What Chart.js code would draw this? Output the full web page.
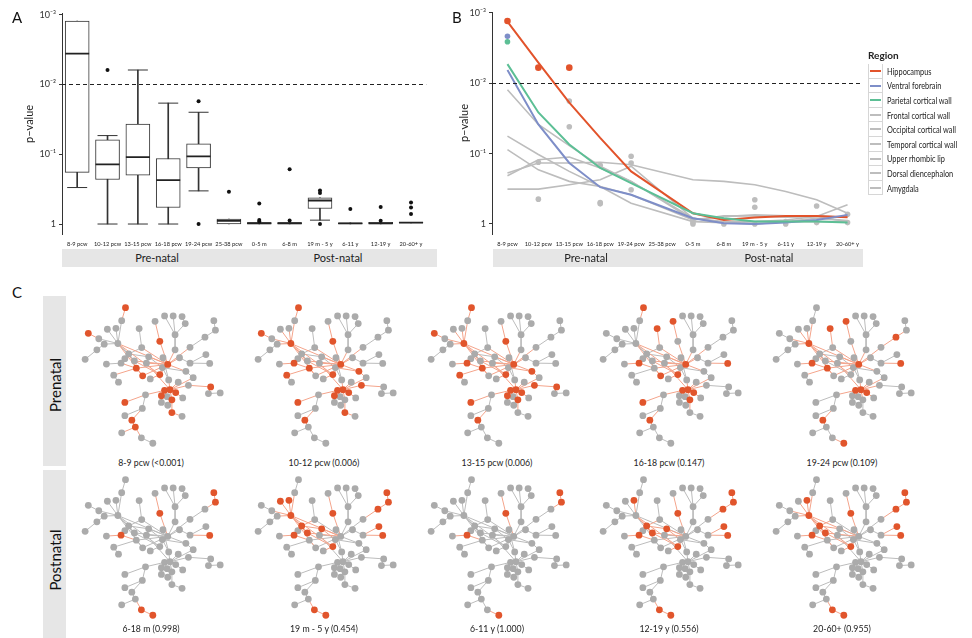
<!DOCTYPE html>
<html>
<head>
<meta charset="utf-8">
<script src="https://cdn.jsdelivr.net/npm/chart.js@4.4.0/dist/chart.umd.min.js"></script>
<style>
  body { margin: 0; background: #fff; font-family: Lato, "Open Sans", sans-serif; color: #222; }
  #page { position: relative; width: 972px; height: 638px; overflow: hidden; }
  .abs { position: absolute; }
  .letter { font-size: 15px; color: #111; }
  .strip { background: #e6e6e6; }
  .stripText { font-size: 11px; color: #222; white-space: nowrap; transform: translateX(-50%); }
  .netLabel { font-size: 9.5px; color: #222; white-space: nowrap; transform: translateX(-50%) scaleX(0.92); }
  .sideBar { background: #e6e6e6; width: 23px; }
  .sideText { font-size: 15px; color: #111; white-space: nowrap; transform: translate(-50%, -50%) rotate(-90deg); }
  #legend { font-size: 8.8px; }
  #legend .title { font-weight: bold; font-size: 10px; margin-bottom: 3px; }
  #legend .row { display: flex; align-items: center; height: 14.6px; }
  #legend .key { width: 13px; height: 13.6px; border: 1px solid #d6d6d6; border-top: none; position: relative; background: #fff; flex: none; }
  #legend .row:first-of-type .key { border-top: 1px solid #d6d6d6; }
  #legend .key span { position: absolute; left: 1px; right: 1px; top: 6px; height: 2px; }
  #legend .lab { margin-left: 4px; white-space: nowrap; transform: scaleX(0.84); transform-origin: left center; }
</style>
</head>
<body>
<div id="page">
  <canvas id="chartA" class="abs" width="440" height="250" style="left:0;top:0"></canvas>
  <canvas id="chartB" class="abs" width="430" height="250" style="left:440px;top:0"></canvas>
  <div class="abs letter" style="left:12px;top:8px">A</div>
  <div class="abs letter" style="left:452px;top:8px">B</div>
  <div class="abs letter" style="left:12px;top:283px">C</div>

  <div class="abs strip" style="left:62px;top:249px;width:375px;height:18px"></div>
  <div class="abs stripText" style="left:157px;top:251px">Pre-natal</div>
  <div class="abs stripText" style="left:338px;top:251px">Post-natal</div>
  <div class="abs strip" style="left:493px;top:249px;width:370px;height:18px"></div>
  <div class="abs stripText" style="left:586px;top:251px">Pre-natal</div>
  <div class="abs stripText" style="left:769px;top:251px">Post-natal</div>

  <div id="legend" class="abs" style="left:868px;top:49px"></div>

  <div class="abs sideBar" style="left:43px;top:296px;height:170px"></div>
  <div class="abs sideText" style="left:55px;top:385px">Prenatal</div>
  <div class="abs sideBar" style="left:43px;top:470px;height:168px"></div>
  <div class="abs sideText" style="left:55px;top:560px">Postnatal</div>
</div>

<script>
// ---- shared ----
const stages = ['8-9 pcw', '10-12 pcw', '13-15 pcw', '16-18 pcw', '19-24 pcw', '25-38 pcw',
                '0-5 m', '6-8 m', '19 m - 5 y', '6-11 y', '12-19 y', '20-60+ y'];
const threshold = 0.01;
const yTicks = [0.001, 0.01, 0.1, 1];
const yTickLabels = ['10\u207B\u00B3', '10\u207B\u00B2', '10\u207B\u00B9', '1'];

// ---- A: p-values per stage (small p is up) ----
const boxTop        = [0.00123, 0.062, 0.037, 0.115, 0.071, 0.85, 0.955, 0.955, 0.42, 0.96, 0.945, 0.95];
const boxMedian     = [0.0036, 0.14, 0.11, 0.235, 0.107, 0.9, 0.975, 0.975, 0.46, 0.98, 0.975, 0.957];
const boxBottom     = [0.182, 0.23, 0.2, 0.58, 0.157, 1, 1, 1, 0.6, 1, 1, 0.965];
const whiskerTop    = [0.00123, 0.054, 0.0062, 0.0185, 0.025, 0.85, 0.955, 0.955, 0.42, 0.96, 0.945, 0.95];
const whiskerBottom = [0.3, 1, 1, 1, 0.335, 1, 1, 1, 0.88, 1, 1, 0.965];
const outlierStage  = ['10-12 pcw', '19-24 pcw', '19-24 pcw', '25-38 pcw', '0-5 m', '0-5 m', '0-5 m',
                       '6-8 m', '6-8 m', '19 m - 5 y', '19 m - 5 y', '19 m - 5 y', '6-11 y',
                       '12-19 y', '12-19 y', '20-60+ y', '20-60+ y', '20-60+ y'];
const outlierP      = [0.0062, 0.0174, 1, 0.345, 0.507, 0.877, 0.92, 0.164, 0.89, 0.33, 0.36, 1,
                       0.61, 0.57, 0.9, 0.49, 0.58, 0.72];

// ---- B: smoothed p-value per region ----
const regions = ['Hippocampus', 'Ventral forebrain', 'Parietal cortical wall', 'Frontal cortical wall',
                 'Occipital cortical wall', 'Temporal cortical wall', 'Upper rhombic lip',
                 'Dorsal diencephalon', 'Amygdala'];
const hippocampusP  = [0.00133, 0.0051, 0.0189, 0.0597, 0.179, null, 0.705, 0.877, 0.812, 0.769, 0.769, 0.803];
const ventralP      = [0.0065, 0.0385, 0.136, 0.3, 0.385, null, 0.83, 0.98, 1, 0.957, 0.877, 0.743];
const parietalP     = [0.00535, 0.026, 0.0743, 0.16, 0.262, null, 0.705, 0.83, 0.926, 0.926, 0.926, 0.957];
const frontalP      = [0.0124, 0.0385, 0.077, 0.151, 0.248, null, 0.83, 0.926, 0.926, 0.877, 0.786, 0.535];
const occipitalP    = [0.0565, 0.103, 0.179, 0.293, 0.507, null, 0.926, 0.957, 0.926, 0.926, 0.926, 0.926];
const temporalP     = [0.088, 0.17, 0.248, 0.293, 0.385, null, 0.877, 0.786, 0.743, 0.769, 0.769, 0.803];
const rhombicP      = [0.189, 0.136, 0.136, 0.133, 0.144, null, 0.235, 0.248, 0.277, 0.345, 0.454, 0.705];
const diencephalonP = [0.206, 0.122, 0.112, 0.16, 0.248, null, 0.877, 0.769, 0.769, 0.803, 0.786, 0.926];
const amygdalaP     = [0.32, 0.32, 0.277, 0.235, 0.151, null, 0.83, 0.957, 1, 0.926, 0.83, 0.896];
const regionCurves = [hippocampusP, ventralP, parietalP, frontalP, occipitalP, temporalP, rhombicP, diencephalonP, amygdalaP];
const regionColors = ['#e2532b', '#7e8ec8', '#5cbf95', '#bdbdbd', '#bdbdbd', '#bdbdbd', '#bdbdbd', '#bdbdbd', '#bdbdbd'];

const dotStage  = ['8-9 pcw', '10-12 pcw', '13-15 pcw', '8-9 pcw', '8-9 pcw',
                   '10-12 pcw', '10-12 pcw', '13-15 pcw', '13-15 pcw', '16-18 pcw', '16-18 pcw', '16-18 pcw',
                   '19-24 pcw', '19-24 pcw', '19-24 pcw', '0-5 m', '0-5 m', '0-5 m', '6-8 m',
                   '19 m - 5 y', '19 m - 5 y', '19 m - 5 y', '6-11 y', '6-11 y', '12-19 y', '12-19 y',
                   '20-60+ y', '20-60+ y'];
const dotP      = [0.0013, 0.006, 0.006, 0.00215, 0.00257,
                   0.133, 0.444, 0.0179, 0.0416, 0.147, 0.496, 0.518,
                   0.109, 0.136, 0.327, 0.877, 0.957, 1, 1,
                   0.454, 0.578, 1, 0.926, 1, 0.556, 0.957,
                   0.727, 0.957];
const dotRegion = [0, 0, 0, 1, 2, 3, 3, 3, 3, 3, 3, 3, 3, 3, 3, 3, 3, 3, 3, 3, 3, 3, 3, 3, 3, 3, 3, 3];

// ---- C: module network, one layout, highlighted genes per stage ----
const nodeX = [162, 150, 138, 105, 132, 45, 78, 95, 72, 35, 205, 213, 255, 285, 312, 340, 350, 318,
               270, 440, 445, 412, 365, 318, 172, 160, 148, 102, 190, 235, 228, 280, 295, 332, 365,
               415, 427, 196, 125, 140, 216, 240, 270, 278, 352, 375, 328, 298, 360, 430, 423, 460,
               285, 302, 320, 275, 308, 293, 342, 275, 295, 308, 340, 225, 160, 215, 160, 182, 193,
               150, 212, 248];
const nodeY = [37, 78, 150, 105, 102, 118, 135, 152, 170, 200, 103, 163, 80, 63, 63, 65, 87, 122,
               143, 78, 108, 130, 162, 170, 183, 198, 212, 215, 205, 192, 212, 195, 216, 195, 212,
               185, 213, 228, 250, 272, 252, 262, 248, 226, 238, 258, 272, 265, 282, 287, 308, 306,
               298, 296, 305, 315, 328, 318, 322, 336, 345, 368, 380, 312, 336, 355, 378, 392, 414,
               432, 448, 465];
const edges = [[0, 1], [1, 2], [3, 2], [4, 2], [5, 6], [6, 2], [7, 2], [8, 7], [9, 8], [2, 24], [2, 32],
               [2, 28], [10, 11], [11, 32], [12, 18], [18, 32], [13, 17], [14, 17], [15, 16], [16, 17],
               [17, 23], [23, 32], [19, 20], [20, 21], [21, 22], [22, 32], [24, 25], [25, 26], [26, 27],
               [24, 28], [28, 32], [29, 32], [30, 32], [29, 24], [31, 32], [33, 32], [34, 33], [35, 34],
               [36, 34], [37, 32], [37, 26], [38, 37], [39, 38], [40, 32], [40, 37], [41, 42], [42, 32],
               [43, 32], [43, 42], [44, 43], [45, 44], [46, 53], [47, 43], [48, 53], [49, 48], [50, 49],
               [51, 50], [52, 53], [53, 47], [54, 53], [55, 52], [56, 53], [57, 52], [58, 54], [59, 55],
               [60, 56], [61, 56], [62, 61], [63, 52], [64, 63], [65, 63], [66, 65], [67, 65], [68, 67],
               [69, 68], [70, 68], [71, 70], [2, 40], [2, 42], [24, 37], [28, 42], [29, 43], [30, 53],
               [45, 53], [44, 32], [31, 47], [11, 24]];
const panelLabels = ['8-9 pcw (<0.001)', '10-12 pcw (0.006)', '13-15 pcw (0.006)', '16-18 pcw (0.147)',
                     '19-24 pcw (0.109)', '6-18 m (0.998)', '19 m - 5 y (0.454)', '6-11 y (1.000)',
                     '12-19 y (0.556)', '20-60+ (0.955)'];
const panelHighlights = [
  [0, 5, 18, 32, 37, 40, 42, 49, 52, 53, 54, 55, 56, 61, 64, 67, 68],
  [0, 5, 2, 18, 32, 26, 37, 38, 42, 44, 48, 52, 53, 54, 55, 61, 64, 67],
  [0, 5, 2, 18, 32, 26, 37, 38, 42, 44, 48, 49, 52, 53, 54, 55, 56, 64, 67],
  [0, 10, 12, 26, 32, 36, 40, 42, 52, 53, 54, 56, 64, 67],
  [2, 10, 12, 21, 26, 32, 36, 37, 52, 53, 54, 67, 71],
  [18, 19, 20, 26, 36, 70, 71],
  [2, 3, 4, 18, 19, 20, 21, 24, 26, 28, 29, 35, 36, 42, 70, 71],
  [18, 19, 20, 26, 71],
  [4, 18, 19, 20, 21, 24, 26, 28, 29, 35, 36, 42, 70, 71],
  [2, 4, 18, 19, 20, 21, 24, 26, 28, 35, 36, 42, 70, 71]
];

Chart.defaults.font.family = 'Lato';
Chart.defaults.color = '#222';

// dashed significance line across the plot area
const thresholdLine = {
  id: 'thresholdLine',
  afterDatasetsDraw(chart) {
    const {ctx, chartArea} = chart;
    const y = Math.round(chart.scales.y.getPixelForValue(threshold)) + 0.5;
    ctx.save();
    ctx.strokeStyle = '#222';
    ctx.lineWidth = 1;
    ctx.setLineDash([4, 3]);
    ctx.beginPath();
    ctx.moveTo(chartArea.left, y);
    ctx.lineTo(chartArea.right, y);
    ctx.stroke();
    ctx.restore();
  }
};

function pScale(titlePad, width) {
  return {
    type: 'logarithmic',
    reverse: true,
    min: 0.00097,
    max: 1.39,
    afterBuildTicks: s => { s.ticks = yTicks.map(v => ({value: v})); },
    afterFit: s => { s.width = width; },
    ticks: {callback: (v, i) => yTickLabels[i], font: {size: 9}, color: '#333', padding: 3},
    grid: {display: true, drawOnChartArea: false, tickLength: 3, color: '#333'},
    border: {display: true, color: '#333', width: 1},
    title: {display: true, text: 'p\u2013value', font: {size: 11}, color: '#222', padding: {top: titlePad, bottom: 0}}
  };
}

const stageAxis = {
  offset: true,
  grid: {display: false, drawTicks: false},
  border: {display: false},
  ticks: {autoSkip: false, maxRotation: 0, minRotation: 0, font: {size: 5.7}, color: '#222', padding: 7},
  afterFit: s => { s.height = 16; }
};

const baseOptions = {
  responsive: false,
  animation: false,
  events: [],
  plugins: {legend: {display: false}, tooltip: {enabled: false}}
};

// ---- A ----
const capTop = whiskerTop.map((v, i) => v < boxTop[i] ? v : null);
const capBottom = whiskerBottom.map((v, i) => v > boxBottom[i] ? v : null);

new Chart(document.getElementById('chartA'), {
  type: 'bar',
  data: {
    labels: stages,
    datasets: [
      {data: stages.map((s, i) => [whiskerTop[i], whiskerBottom[i]]), barThickness: 1,
       backgroundColor: '#333', borderWidth: 0, grouped: false, order: 6},
      {data: stages.map((s, i) => [boxTop[i], boxBottom[i]]), barThickness: 24,
       backgroundColor: '#fff', borderColor: '#333', borderWidth: 1, borderSkipped: false, grouped: false, order: 5},
      {type: 'line', data: boxMedian, showLine: false, pointStyle: 'line', pointRadius: 12,
       pointBorderColor: '#222', pointBorderWidth: 1.8, order: 3},
      {type: 'line', data: capTop, showLine: false, pointStyle: 'line', pointRadius: 10,
       pointBorderColor: '#333', pointBorderWidth: 1, order: 4},
      {type: 'line', data: capBottom, showLine: false, pointStyle: 'line', pointRadius: 10,
       pointBorderColor: '#333', pointBorderWidth: 1, order: 4},
      {type: 'line', data: outlierStage.map((s, i) => ({x: s, y: outlierP[i]})), showLine: false,
       pointRadius: 2, pointBackgroundColor: '#111', pointBorderWidth: 0, order: 1}
    ]
  },
  options: Object.assign({}, baseOptions, {
    layout: {padding: {left: 0, right: 3, top: 12, bottom: 0}},
    scales: {x: stageAxis, y: pScale(23, 62)}
  }),
  plugins: [thresholdLine]
});

// ---- B ----
const curveSets = regionCurves.map((vals, i) => ({
  data: vals, borderColor: regionColors[i], borderWidth: i < 3 ? 2 : 1.6, pointRadius: 0,
  spanGaps: true, tension: 0, order: i < 3 ? 4 - i : 8
}));
const dotSets = [0, 1, 2, 3].map(r => ({
  data: dotStage.map((s, i) => ({x: s, y: dotP[i], r: dotRegion[i]})).filter(d => d.r === r),
  showLine: false, pointRadius: r === 0 ? 3.3 : 2.8, pointBackgroundColor: regionColors[r],
  pointBorderWidth: 0, order: r === 3 ? 9 : 0
}));

new Chart(document.getElementById('chartB'), {
  type: 'line',
  data: {labels: stages, datasets: curveSets.concat(dotSets)},
  options: Object.assign({}, baseOptions, {
    layout: {padding: {left: 0, right: 7, top: 12, bottom: 0}},
    scales: {x: stageAxis, y: pScale(18, 52)}
  }),
  plugins: [thresholdLine]
});

// legend for B
const legend = document.getElementById('legend');
legend.innerHTML = '<div class="title">Region</div>' + regions.map((r, i) =>
  '<div class="row"><div class="key"><span style="background:' + regionColors[i] + '"></span></div>' +
  '<div class="lab">' + r + '</div></div>').join('');

// ---- C ----
function edgePoints(list) {
  const pts = [];
  list.forEach(([a, b]) => {
    pts.push({x: nodeX[a], y: nodeY[a]}, {x: nodeX[b], y: nodeY[b]}, {x: null, y: null});
  });
  return pts;
}

const page = document.getElementById('page');
panelLabels.forEach((label, i) => {
  const col = i % 5, row = Math.floor(i / 5);
  const left = 70 + col * 172.75, top = row === 0 ? 292 : 464;
  const canvas = document.createElement('canvas');
  canvas.width = 172; canvas.height = 160;
  canvas.className = 'abs';
  canvas.style.left = left + 'px'; canvas.style.top = top + 'px';
  page.appendChild(canvas);
  const lab = document.createElement('div');
  lab.className = 'abs netLabel';
  lab.textContent = label;
  lab.style.left = (left + 81) + 'px';
  lab.style.top = (row === 0 ? 457 : 623) + 'px';
  page.appendChild(lab);

  const hl = new Set(panelHighlights[i]);
  const hot = edges.filter(([a, b]) => hl.has(a) || hl.has(b));
  const cold = edges.filter(([a, b]) => !hl.has(a) && !hl.has(b));
  const nodes = nodeX.map((x, k) => ({x: x, y: nodeY[k], k: k}));
  new Chart(canvas, {
    type: 'scatter',
    data: {
      datasets: [
        {data: nodes.filter(n => hl.has(n.k)), pointRadius: 3.4, pointBackgroundColor: '#e1552c',
         pointBorderWidth: 0, order: 0, clip: false},
        {data: nodes.filter(n => !hl.has(n.k)), pointRadius: 3.4, pointBackgroundColor: '#ababab',
         pointBorderWidth: 0, order: 1, clip: false},
        {data: edgePoints(hot), showLine: true, spanGaps: false, pointRadius: 0, borderWidth: 1,
         borderColor: '#f4a48b', order: 2, clip: false},
        {data: edgePoints(cold), showLine: true, spanGaps: false, pointRadius: 0, borderWidth: 1,
         borderColor: '#bcbcbc', order: 3, clip: false}
      ]
    },
    options: Object.assign({}, baseOptions, {
      layout: {padding: 0},
      scales: {
        x: {type: 'linear', display: false, min: 0, max: 516},
        y: {type: 'linear', display: false, min: 0, max: 480, reverse: true}
      }
    })
  });
});
</script>
</body>
</html>
